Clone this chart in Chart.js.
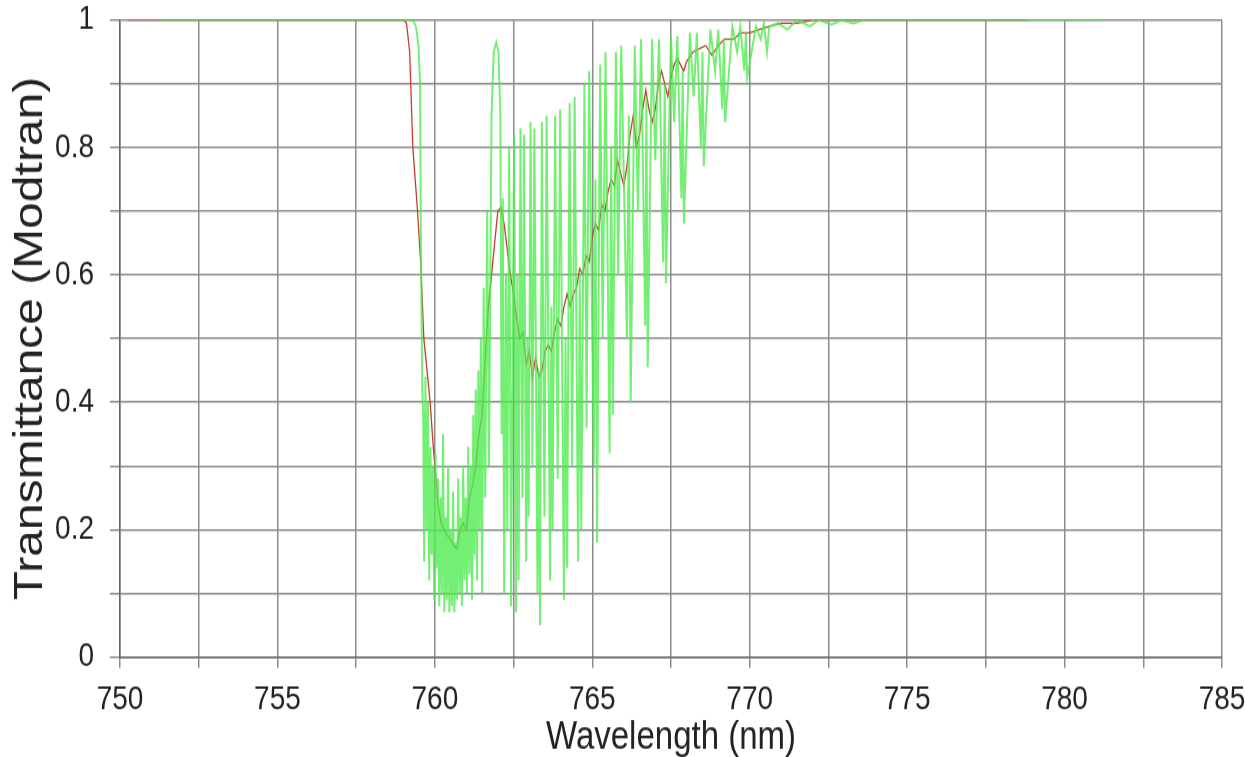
<!DOCTYPE html>
<html>
<head>
<meta charset="utf-8">
<script src="https://cdn.jsdelivr.net/npm/chart.js@4.4.0/dist/chart.umd.min.js"></script>
<style>
  html, body { margin: 0; padding: 0; background: #fff; }
  #page { width: 1245px; height: 757px; position: relative; overflow: hidden; }
  /* the original figure is stretched vertically, so the chart is drawn flat and scaled */
  #wrap { position: absolute; left: 0; top: 0; width: 1245px; height: 631px; transform: scale(1, 1.2); transform-origin: 0 0; }
</style>
</head>
<body>
<div id="page"><div id="wrap"><canvas id="chart" width="1245" height="631"></canvas></div></div>
<script>
// low resolution transmittance (red)
const redWl = [
  750.25, 759.0, 759.1, 759.2, 759.3, 759.45, 759.55, 759.65, 759.75, 759.85, 759.95,
  760.0, 760.1, 760.2, 760.3, 760.4, 760.5, 760.6, 760.7, 760.8, 760.9, 761.0, 761.1,
  761.2, 761.3, 761.4, 761.5, 761.6, 761.7, 761.8, 761.9, 762.0, 762.1, 762.2, 762.3,
  762.4, 762.5, 762.6, 762.7, 762.8, 762.9, 763.0, 763.1, 763.2, 763.3, 763.4, 763.5,
  763.6, 763.7, 763.8, 763.9, 764.0, 764.1, 764.2, 764.3, 764.4, 764.5, 764.6, 764.7,
  764.8, 764.9, 765.0, 765.1, 765.2, 765.3, 765.4, 765.5, 765.6, 765.7, 765.8, 765.9,
  766.0, 766.1, 766.2, 766.3, 766.4, 766.5, 766.6, 766.7, 766.8, 766.9, 767.0, 767.1,
  767.2, 767.3, 767.4, 767.5, 767.6, 767.7, 767.8, 767.9, 768.0, 768.2, 768.4, 768.6,
  768.8, 769.0, 769.2, 769.5, 769.7, 770.0, 770.3, 770.6, 771.0, 771.5, 772.0, 778.8
];
const redT = [
  1.0, 1.0, 0.995, 0.95, 0.8, 0.7, 0.62, 0.5, 0.45, 0.4, 0.33,
  0.3, 0.24, 0.21, 0.2, 0.19, 0.185, 0.175, 0.17, 0.2, 0.21, 0.2, 0.25,
  0.27, 0.3, 0.35, 0.38, 0.47, 0.55, 0.6, 0.65, 0.7, 0.705, 0.68, 0.64,
  0.6, 0.57, 0.53, 0.5, 0.51, 0.46, 0.48, 0.44, 0.47, 0.44, 0.45, 0.48,
  0.49, 0.48, 0.51, 0.53, 0.52, 0.55, 0.57, 0.55, 0.57, 0.58, 0.61, 0.6,
  0.63, 0.62, 0.66, 0.68, 0.67, 0.71, 0.7, 0.73, 0.75, 0.74, 0.78, 0.76,
  0.74, 0.77, 0.82, 0.85, 0.8, 0.82, 0.86, 0.89, 0.86, 0.84, 0.86, 0.9,
  0.92, 0.9, 0.88, 0.91, 0.93, 0.94, 0.93, 0.92, 0.935, 0.95, 0.955, 0.96,
  0.945, 0.96, 0.97, 0.97, 0.98, 0.98, 0.985, 0.99, 0.995, 0.995, 1.0, 1.0
];

// high resolution transmittance (green)
const greenWl = [
  751.2, 759.3, 759.4, 759.48, 759.53, 759.56, 759.6, 759.63, 759.66, 759.7,
  759.74, 759.78, 759.82, 759.86, 759.9, 759.94, 759.98, 760.02, 760.06, 760.1,
  760.14, 760.18, 760.22, 760.26, 760.3, 760.34, 760.38, 760.42, 760.46, 760.5,
  760.54, 760.58, 760.62, 760.66, 760.7, 760.74, 760.78, 760.82, 760.86, 760.9,
  760.94, 760.98, 761.02, 761.06, 761.1, 761.14, 761.18, 761.22, 761.26, 761.3,
  761.34, 761.38, 761.42, 761.46, 761.5, 761.55, 761.6, 761.66, 761.72, 761.8,
  761.87, 761.95, 762.02, 762.08, 762.12, 762.16, 762.2, 762.26, 762.3, 762.36,
  762.42, 762.48, 762.52, 762.58, 762.62, 762.66, 762.72, 762.78, 762.83, 762.9,
  762.94, 762.98, 763.04, 763.1, 763.16, 763.26, 763.3, 763.34, 763.4, 763.48,
  763.55, 763.66, 763.7, 763.74, 763.82, 763.9, 763.98, 764.1, 764.15, 764.2,
  764.28, 764.36, 764.44, 764.55, 764.6, 764.65, 764.75, 764.82, 764.9, 765.05,
  765.1, 765.15, 765.25, 765.33, 765.42, 765.55, 765.6, 765.65, 765.75, 765.82,
  765.92, 766.1, 766.16, 766.22, 766.35, 766.45, 766.55, 766.68, 766.72, 766.76,
  766.9, 767.0, 767.12, 767.25, 767.3, 767.34, 767.5, 767.6, 767.7, 767.83,
  767.87, 767.91, 768.1, 768.22, 768.32, 768.45, 768.5, 768.54, 768.75, 768.9,
  769.0, 769.13, 769.18, 769.22, 769.45, 769.6, 769.7, 769.83, 769.88, 769.92,
  770.2, 770.35, 770.45, 770.55, 770.62, 770.9, 771.2, 771.5, 771.9, 772.2,
  772.6, 772.9, 773.3, 773.6, 781.1
];
const greenT = [
  1.0, 1.0, 0.99, 0.96, 0.9, 0.62, 0.42, 0.38, 0.15, 0.44,
  0.2, 0.4, 0.12, 0.33, 0.16, 0.3, 0.09, 0.32, 0.14, 0.28,
  0.08, 0.25, 0.1, 0.35, 0.07, 0.22, 0.09, 0.3, 0.07, 0.2,
  0.08, 0.26, 0.07, 0.18, 0.09, 0.28, 0.1, 0.22, 0.08, 0.3,
  0.12, 0.25, 0.1, 0.33, 0.13, 0.3, 0.09, 0.38, 0.16, 0.42,
  0.12, 0.45, 0.2, 0.5, 0.1, 0.58, 0.25, 0.7, 0.3, 0.85,
  0.95, 0.965, 0.95, 0.85, 0.35, 0.72, 0.1, 0.6, 0.2, 0.8,
  0.08, 0.55, 0.82, 0.07, 0.6, 0.12, 0.83, 0.25, 0.82, 0.15,
  0.5, 0.22, 0.84, 0.3, 0.83, 0.1, 0.45, 0.05, 0.84, 0.22,
  0.85, 0.12, 0.55, 0.2, 0.85, 0.28, 0.86, 0.09, 0.5, 0.14,
  0.87, 0.3, 0.88, 0.15, 0.6, 0.2, 0.9, 0.36, 0.92, 0.3,
  0.75, 0.18, 0.93, 0.5, 0.95, 0.32, 0.8, 0.38, 0.95, 0.6,
  0.96, 0.5, 0.85, 0.4, 0.96, 0.7, 0.97, 0.52, 0.88, 0.455,
  0.97, 0.78, 0.97, 0.62, 0.9, 0.587, 0.975, 0.84, 0.975, 0.72,
  0.92, 0.68, 0.98, 0.88, 0.98, 0.8, 0.95, 0.77, 0.985, 0.92,
  0.985, 0.86, 0.97, 0.84, 0.99, 0.95, 0.99, 0.92, 0.98, 0.91,
  0.99, 0.97, 0.995, 0.95, 0.99, 0.995, 0.985, 1.0, 0.99, 1.0,
  0.993, 1.0, 0.995, 1.0, 1.0
];

const toPoints = (xs, ys) => xs.map((x, i) => ({ x, y: ys[i] }));

const gridColor = '#8c8c8c';
const fontFamily = "Arial, 'Liberation Sans', sans-serif";

new Chart(document.getElementById('chart'), {
  type: 'line',
  data: {
    datasets: [
      {
        label: 'Modtran',
        data: toPoints(greenWl, greenT),
        borderColor: 'rgba(80,235,80,0.8)',
        borderWidth: 2,
        pointRadius: 0,
        tension: 0,
      },
      {
        label: 'Modtran (smoothed)',
        data: toPoints(redWl, redT),
        borderColor: 'rgb(200,60,45)',
        borderWidth: 1.3,
        pointRadius: 0,
        tension: 0,
      },
    ],
  },
  options: {
    responsive: false,
    animation: false,
    layout: { padding: { left: 0, right: 23, top: 16.7, bottom: 0 } },
    plugins: {
      legend: { display: false },
      tooltip: { enabled: false },
    },
    scales: {
      x: {
        type: 'linear',
        min: 750,
        max: 785,
        afterFit(scale) {
          scale.height = 83.5;
          scale.paddingLeft = 0;
          scale.paddingRight = 0;
        },
        ticks: {
          stepSize: 2.5,
          autoSkip: false,
          maxRotation: 0,
          padding: 10,
          color: '#222',
          font: { family: fontFamily, size: 28 },
          callback(v) { return v % 5 === 0 ? String(v) : ''; },
        },
        grid: { color: gridColor, lineWidth: 1.5, tickLength: 9 },
        border: { color: '#666', width: 1.5 },
        title: {
          display: true,
          text: 'Wavelength (nm)',
          color: '#222',
          font: { family: fontFamily, size: 33 },
          padding: { top: 0, bottom: -4 },
        },
      },
      y: {
        min: 0,
        max: 1,
        afterFit(scale) {
          scale.width = 120;
          scale.paddingTop = 0;
          scale.paddingBottom = 0;
        },
        ticks: {
          stepSize: 0.1,
          autoSkip: false,
          padding: 16,
          color: '#222',
          font: { family: fontFamily, size: 28 },
          callback(v) {
            const k = Math.round(v * 10);
            return k % 2 === 0 ? String(k / 10) : '';
          },
        },
        grid: { color: gridColor, lineWidth: 1.5, tickLength: 10 },
        border: { color: '#666', width: 1.5 },
        title: {
          display: true,
          text: 'Transmittance (Modtran)',
          color: '#222',
          font: { family: fontFamily, size: 40 },
          padding: { top: 7, bottom: 0 },
        },
      },
    },
  },
});
</script>
</body>
</html>
